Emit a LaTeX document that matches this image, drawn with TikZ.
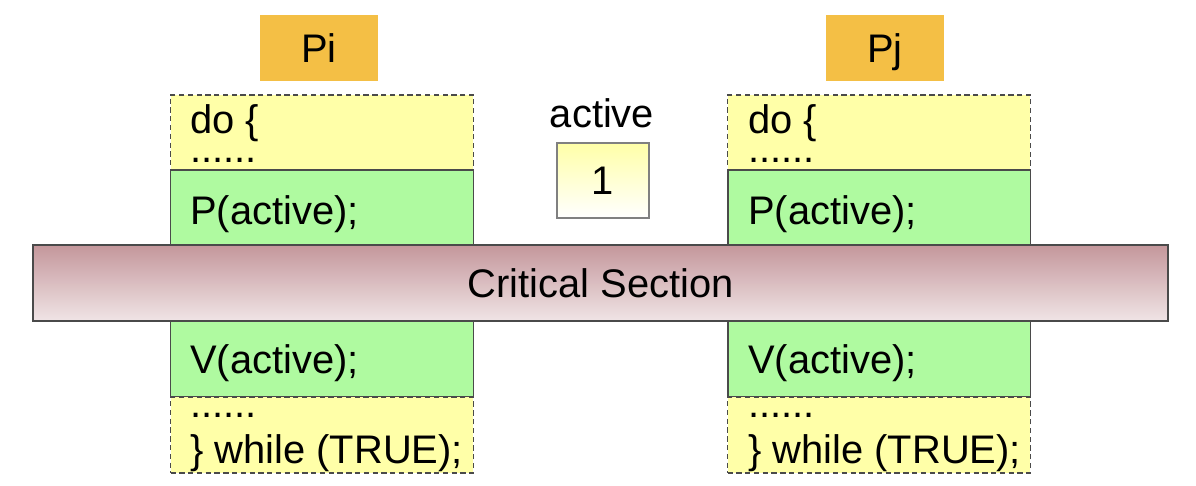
\documentclass[tikz,border=0pt]{standalone}
\usepackage{fontspec}
\setmainfont{Liberation Sans}
\usetikzlibrary{positioning}
\usepackage{xcolor}

\definecolor{procorange}{HTML}{F4BF45}
\definecolor{codeyellow}{HTML}{FFFFA8}
\definecolor{lockgreen}{HTML}{AFFAA0}
\definecolor{bartop}{HTML}{C4979B}
\definecolor{barbottom}{HTML}{F0E4E6}
\definecolor{edgegray}{HTML}{4A4A4A}

\begin{document}
\begin{tikzpicture}[x=0.02cm,y=-0.02cm]
                \tikzset{every node/.style={font=\fontsize{22.7}{27}\selectfont}}
                \tikzset{Proc/.style={rectangle, fill=procorange, minimum width=2.36cm, minimum height=1.32cm, text height=0.58cm, text depth=0pt, inner sep=0pt}}
                \tikzset{Code/.style={rectangle, draw=edgegray, dash pattern=on 3pt off 2pt, line width=0.9pt, fill=codeyellow, minimum width=6.06cm, minimum height=1.51cm, inner sep=0pt}}
                \tikzset{Lock/.style={rectangle, draw=edgegray, line width=1.1pt, fill=lockgreen, minimum width=6.06cm, minimum height=1.51cm, inner sep=0pt}}
                \tikzset{Bar/.style={rectangle, draw=edgegray, line width=1.1pt, top color=bartop, bottom color=barbottom, minimum width=22.7cm, minimum height=1.52cm, inner sep=0pt}}
                \tikzset{Sem/.style={rectangle, draw=gray, line width=1.1pt, top color=codeyellow, bottom color=white, minimum width=1.84cm, minimum height=1.5cm, inner sep=0pt}}
                \tikzset{Line/.style={anchor=base west, inner sep=0pt}}
                \tikzset{TopLines/.style={Line, align=left, font=\fontsize{22.7}{17}\selectfont}}
                \tikzset{EndLines/.style={Line, align=left, font=\fontsize{22.7}{26.1}\selectfont}}

                \useasboundingbox (0,0) rectangle (1196,486);

                % processes
                \node[Proc](PI) at (319,48) {Pi};
                \node[Proc](PJ) at (885,48) {Pj};

                % code blocks of Pi
                \node[Code](PIentry) at (322,132.5) {};
                \node[Lock](PIwait) at (322,207.5) {};
                \node[Lock](PIsignal) at (322,359) {};
                \node[Code](PIexit) at (322,435) {};

                % code blocks of Pj
                \node[Code](PJentry) at (879,132.5) {};
                \node[Lock](PJwait) at (879,207.5) {};
                \node[Lock](PJsignal) at (879,359) {};
                \node[Code](PJexit) at (879,435) {};

                % semaphore
                \node[anchor=base](SEMname) at (602,128) {active};
                \node[Sem](SEM) at (603,180.5) {1};

                % critical section
                \node[Bar](CS) at (600.5,283) {Critical Section};

                % code lines (base = last line)
                \node[TopLines](PIdo) at (190,163) {do \{\\......};
                \node[Line](PIp) at (190,224) {P(active);};
                \node[Line](PIv) at (190,373) {V(active);};
                \node[EndLines](PIwhile) at (190,463) {......\\\} while (TRUE);};

                \node[TopLines](PJdo) at (748,163) {do \{\\......};
                \node[Line](PJp) at (748,224) {P(active);};
                \node[Line](PJv) at (748,373) {V(active);};
                \node[EndLines](PJwhile) at (748,463) {......\\\} while (TRUE);};
            \end{tikzpicture}
\end{document}
